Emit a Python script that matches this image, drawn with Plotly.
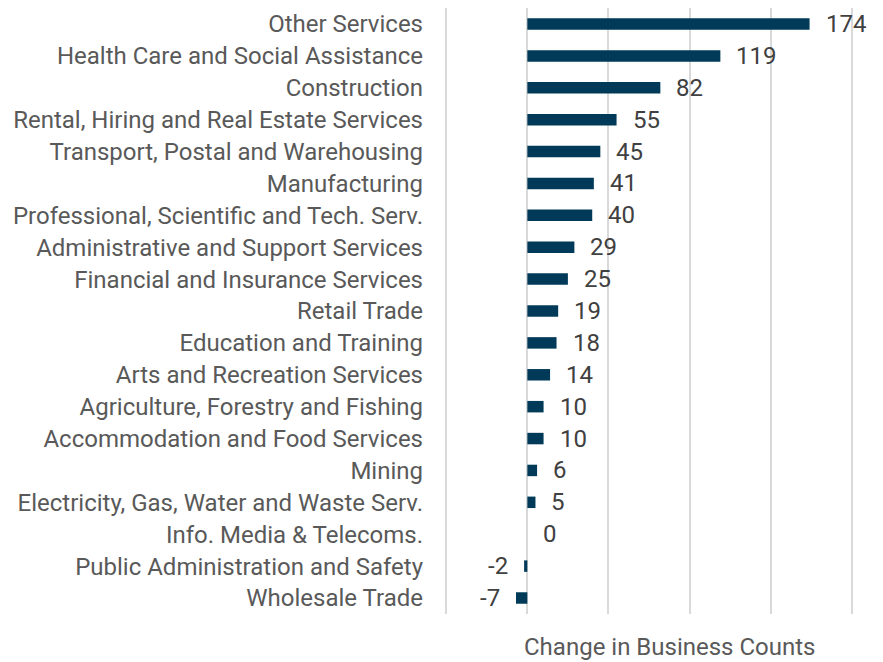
import plotly.graph_objects as go

# Industries, listed top to bottom
industries = [
    "Other Services",
    "Health Care and Social Assistance",
    "Construction",
    "Rental, Hiring and Real Estate Services",
    "Transport, Postal and Warehousing",
    "Manufacturing",
    "Professional, Scientific and Tech. Serv.",
    "Administrative and Support Services",
    "Financial and Insurance Services",
    "Retail Trade",
    "Education and Training",
    "Arts and Recreation Services",
    "Agriculture, Forestry and Fishing",
    "Accommodation and Food Services",
    "Mining",
    "Electricity, Gas, Water and Waste Serv.",
    "Info. Media & Telecoms.",
    "Public Administration and Safety",
    "Wholesale Trade",
]

# Change in business counts per industry
changes = [174, 119, 82, 55, 45, 41, 40, 29, 25, 19, 18, 14, 10, 10, 6, 5, 0, -2, -7]

grid_values = [-50, 0, 50, 100, 150, 200]

BAR_COLOR = "#013a58"
LABEL_GREY = "#595959"
VALUE_GREY = "#404040"
FONT = "Roboto, Arial, sans-serif"
FONT_SIZE = 24

fig = go.Figure(
    go.Bar(
        x=changes,
        y=industries,
        orientation="h",
        marker=dict(color=BAR_COLOR, line=dict(width=0)),
        width=0.36,
        hoverinfo="x+y",
    )
)

# Value labels beside each bar end
for name, v in zip(industries, changes):
    if v < 0:
        fig.add_annotation(
            x=v, y=name, xref="x", yref="y", text=str(v), showarrow=False,
            xanchor="right", xshift=-14,
            font=dict(family=FONT, size=FONT_SIZE, color=VALUE_GREY),
        )
    else:
        fig.add_annotation(
            x=v, y=name, xref="x", yref="y", text=str(v), showarrow=False,
            xanchor="left", xshift=14,
            font=dict(family=FONT, size=FONT_SIZE, color=VALUE_GREY),
        )

# Axis title below the plot
PLOT_L, PLOT_R = 443, 855
fig.add_annotation(
    x=(670 - PLOT_L) / (PLOT_R - PLOT_L), xref="paper", y=0, yref="paper",
    yanchor="middle", yshift=-33, xanchor="center",
    text="Change in Business Counts", showarrow=False,
    font=dict(family=FONT, size=FONT_SIZE, color=LABEL_GREY),
)

fig.update_layout(
    width=883,
    height=662,
    margin=dict(l=PLOT_L, r=883 - PLOT_R, t=8, b=48),
    paper_bgcolor="white",
    plot_bgcolor="white",
    showlegend=False,
    font=dict(family=FONT, size=FONT_SIZE, color=LABEL_GREY),
    xaxis=dict(
        range=[-52, 202],
        tickmode="array",
        tickvals=grid_values,
        showticklabels=False,
        showgrid=True,
        gridcolor="#d9d9d9",
        gridwidth=1.5,
        zeroline=False,
        showline=False,
        ticks="",
        fixedrange=True,
    ),
    yaxis=dict(
        categoryorder="array",
        categoryarray=industries,
        autorange="reversed",
        ticks="",
        showgrid=False,
        showline=False,
        zeroline=False,
        ticklabelstandoff=19,
        tickfont=dict(family=FONT, size=FONT_SIZE, color=LABEL_GREY),
        fixedrange=True,
    ),
)

fig.write_html("out.html")
